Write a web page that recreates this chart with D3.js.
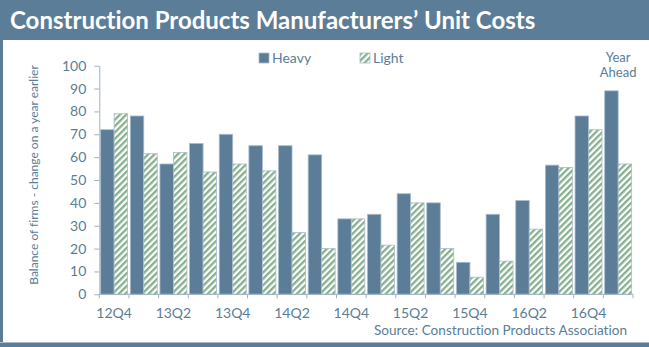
<!DOCTYPE html>
<html>
<head>
<meta charset="utf-8">
<script src="https://cdn.jsdelivr.net/npm/d3@7"></script>
<style>
  html, body { margin: 0; padding: 0; background: #fff; }
  svg { display: block; }
  text { font-family: Lato, "Open Sans", sans-serif; font-variant-ligatures: none; }
</style>
</head>
<body>
<svg id="chart" width="649" height="347"></svg>
<script>
// Quarterly balance of firms reporting higher unit costs
const categories = ["12Q4","13Q1","13Q2","13Q3","13Q4","14Q1","14Q2","14Q3","14Q4",
                    "15Q1","15Q2","15Q3","15Q4","16Q1","16Q2","16Q3","16Q4","Year Ahead"];
const heavy = [72, 78, 57, 66, 70, 65, 65, 61, 33, 35, 44, 40, 14, 35, 41, 56.5, 78, 89];
const light = [79, 61.5, 62, 53.5, 57, 54, 27, 20, 33, 21.5, 40, 20, 7.5, 14.5, 28.5, 55.5, 72, 57];
const seriesNames = ["Heavy", "Light"];
const xTickLabels = ["12Q4","13Q2","13Q4","14Q2","14Q4","15Q2","15Q4","16Q2","16Q4"];
const yTicks = [0,10,20,30,40,50,60,70,80,90,100];

const frame = "#5b7d97";
const textCol = "#5b7d97";
const axisCol = "#9db2c4";

const svg = d3.select("#chart");
const W = 649, H = 347;

// Hatched fill for the Light series
const defs = svg.append("defs");
const pat = defs.append("pattern")
  .attr("id", "hatch")
  .attr("patternUnits", "userSpaceOnUse")
  .attr("width", 4.5).attr("height", 4.5)
  .attr("patternTransform", "rotate(45)");
pat.append("rect").attr("width", 4.5).attr("height", 4.5).attr("fill", "#ffffff");
pat.append("rect").attr("width", 2.3).attr("height", 4.5).attr("fill", "#86b08e");

// Frame: title bar, left rule, bottom rule
svg.append("rect").attr("x", 0).attr("y", 0).attr("width", W).attr("height", H).attr("fill", "#fff");
svg.append("rect").attr("x", 0).attr("y", 0).attr("width", W).attr("height", 40).attr("fill", frame);
svg.append("rect").attr("x", 0).attr("y", 40).attr("width", 3).attr("height", H - 40).attr("fill", frame);
svg.append("rect").attr("x", 0).attr("y", 342).attr("width", W).attr("height", 1).attr("fill", "#a9bccb");
svg.append("rect").attr("x", 0).attr("y", 343).attr("width", W).attr("height", 4).attr("fill", frame);

svg.append("text")
  .attr("x", 10).attr("y", 29)
  .attr("fill", "#fff")
  .attr("font-size", 24).attr("font-weight", 700)
  .text("Construction Products Manufacturers\u2019 Unit Costs");

// Scales
const x0 = d3.scaleBand().domain(categories).range([99.3, 633]).padding(0);
const x1 = d3.scaleBand().domain(seriesNames).range([0, x0.bandwidth()]).paddingInner(0).paddingOuter(0.1);
const y = d3.scaleLinear().domain([0, 100]).range([294.3, 65.7]);

// Bars
const rows = categories.map((c, i) => ({ cat: c, Heavy: heavy[i], Light: light[i] }));
const groups = svg.append("g").selectAll("g").data(rows).join("g")
  .attr("transform", d => `translate(${x0(d.cat)},0)`);

groups.selectAll("rect").data(d => seriesNames.map(k => ({ key: k, value: d[k] }))).join("rect")
  .attr("x", d => x1(d.key))
  .attr("y", d => y(d.value))
  .attr("width", x1.bandwidth())
  .attr("height", d => y(0) - y(d.value))
  .attr("fill", d => d.key === "Heavy" ? frame : "url(#hatch)")
  .attr("stroke", "#a9bccb")
  .attr("stroke-width", 0.8);

// Y axis
const yAxis = svg.append("g")
  .attr("transform", "translate(99.3,0)")
  .call(d3.axisLeft(y).tickValues(yTicks).tickSize(5).tickSizeOuter(0).tickPadding(8));
yAxis.select(".domain").attr("stroke", axisCol);
yAxis.selectAll(".tick line").attr("stroke", axisCol);
yAxis.selectAll(".tick text")
  .attr("fill", textCol).attr("font-size", 14)
  .style("font-family", "Lato, sans-serif");

// X axis: ticks on group boundaries, labels on every other group
const xg = svg.append("g").attr("transform", `translate(0,${y(0)})`);
xg.append("line")
  .attr("x1", x0.range()[0]).attr("x2", x0.range()[1])
  .attr("stroke", axisCol);
const bounds = categories.map(c => x0(c)).concat([x0.range()[1]]);
xg.selectAll("line.tk").data(bounds).join("line")
  .attr("class", "tk")
  .attr("x1", d => d).attr("x2", d => d)
  .attr("y1", 0).attr("y2", 4)
  .attr("stroke", axisCol);
xg.selectAll("text").data(xTickLabels).join("text")
  .attr("x", d => x0(d) + x0.bandwidth() / 2)
  .attr("y", 24)
  .attr("text-anchor", "middle")
  .attr("fill", textCol).attr("font-size", 14)
  .text(d => d);

// Y axis title
svg.append("text")
  .attr("transform", `translate(38,${(y(0) + y(100)) / 2 - 5}) rotate(-90)`)
  .attr("text-anchor", "middle")
  .attr("fill", textCol).attr("font-size", 12)
  .text("Balance of firms - change on a year earlier");

// Note over the final group
const lastX = x0(categories[categories.length - 1]) + x0.bandwidth() / 2;
const note = svg.append("text")
  .attr("text-anchor", "middle").attr("fill", textCol).attr("font-size", 13);
note.append("tspan").attr("x", lastX).attr("y", 62).text("Year");
note.append("tspan").attr("x", lastX).attr("y", 77).text("Ahead");

// Legend
const legend = svg.append("g");
const legendItems = [
  { name: "Heavy", x: 259, fill: frame },
  { name: "Light", x: 360, fill: "url(#hatch)" }
];
const li = legend.selectAll("g").data(legendItems).join("g")
  .attr("transform", d => `translate(${d.x},53)`);
li.append("rect").attr("width", 10).attr("height", 10)
  .attr("fill", d => d.fill).attr("stroke", "#a9bccb").attr("stroke-width", 0.8);
li.append("text").attr("x", 13).attr("y", 10)
  .attr("fill", textCol).attr("font-size", 14)
  .text(d => d.name);

// Source
svg.append("text")
  .attr("x", 627).attr("y", 335)
  .attr("text-anchor", "end")
  .attr("fill", textCol).attr("font-size", 13.6)
  .text("Source: Construction Products Association");
</script>
</body>
</html>
